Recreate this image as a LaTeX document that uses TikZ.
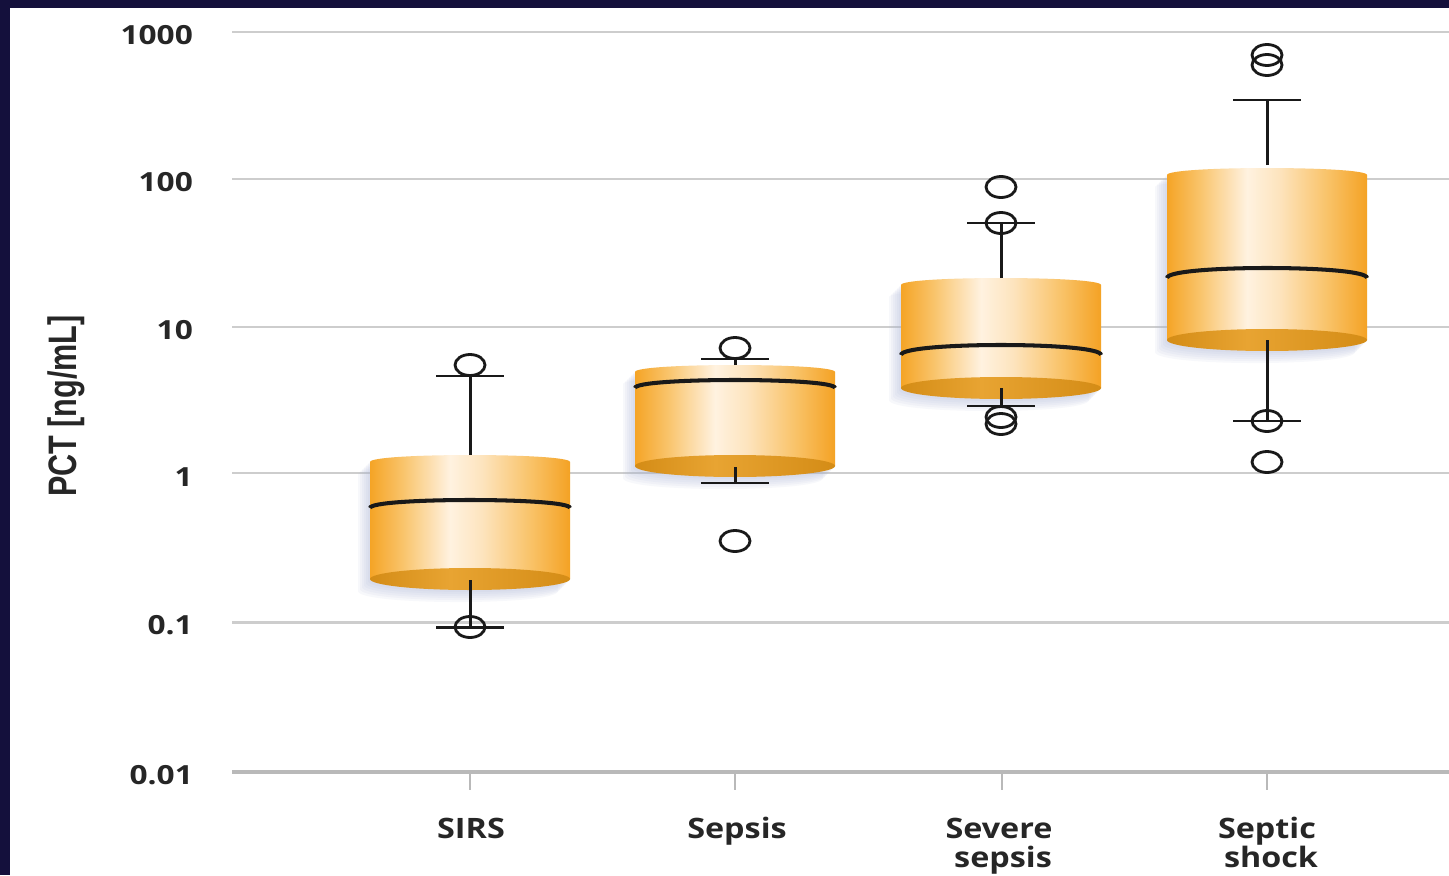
\documentclass[tikz,border=0pt]{standalone}
\usepackage{fontspec}
\setmainfont{Open Sans}
\newfontfamily\tickfont[FakeStretch=1.2]{Open Sans}
\newfontfamily\catfont[FakeStretch=1.15]{Open Sans}
\newfontfamily\ylabfont{Liberation Sans}
\definecolor{navy}{RGB}{20,16,60}
\definecolor{navylight}{RGB}{42,40,95}
\definecolor{gridc}{RGB}{205,205,205}
\definecolor{basec}{RGB}{185,185,185}
\definecolor{txt}{RGB}{38,38,38}
\definecolor{oa}{RGB}{245,164,38}
\definecolor{ob}{RGB}{249,195,105}
\definecolor{oc}{RGB}{255,242,224}
\definecolor{od}{RGB}{253,228,190}
\definecolor{oe}{RGB}{244,162,36}
\definecolor{ba}{RGB}{212,140,22}
\definecolor{bb}{RGB}{232,164,50}
\definecolor{shadowc}{RGB}{170,180,215}
\pgfdeclarehorizontalshading{cylside}{100bp}{color(0bp)=(oa); color(25bp)=(oa); color(33bp)=(ob); color(45bp)=(oc); color(53bp)=(od); color(65bp)=(ob); color(75bp)=(oe); color(100bp)=(oe)}
\pgfdeclarehorizontalshading{cylbot}{100bp}{color(0bp)=(ba); color(25bp)=(ba); color(45bp)=(bb); color(75bp)=(ba); color(100bp)=(ba)}
\tikzset{
  gridline/.style={draw=gridc, line width=1.7pt},
  baseline/.style={draw=basec, line width=2.2pt},
  tickmark/.style={draw=basec, line width=1.5pt},
  wline/.style={draw=black!90, line width=1.7pt},
  mline/.style={draw=black!90, line width=2.3pt},
  oline/.style={draw=black!90, line width=1.6pt},
  ticklab/.style={anchor=east, text=txt, font=\tickfont\bfseries\fontsize{15}{18}\selectfont},
  catlab/.style={anchor=base, text=txt, font=\catfont\bfseries\fontsize{16}{19}\selectfont},
  shadlayer/.style={fill=shadowc, fill opacity=0.09}
}
% #1 cx, #2 top side y, #3 bottom ellipse centre y, #4 median side y, #5 median bulge
\newcommand\cylbox[5]{%
  \foreach \s in {2,4,6,8,10,12} {
    \fill[shadlayer] ({#1-100-\s},{#2+\s}) .. controls ({#1-100-\s},{#2+\s-9.3}) and ({#1+100-\s},{#2+\s-9.3}) .. ({#1+100-\s},{#2+\s}) -- ({#1+100-\s},{#3+\s}) .. controls ({#1+100-\s},{#3+\s+14.7}) and ({#1-100-\s},{#3+\s+14.7}) .. ({#1-100-\s},{#3+\s}) -- cycle;
  }
  \shade[shading=cylside] ({#1-100},#2) .. controls ({#1-100},{#2-9.3}) and ({#1+100},{#2-9.3}) .. ({#1+100},#2) -- ({#1+100},#3) -- ({#1-100},#3) -- cycle;
  \shade[shading=cylbot] (#1,#3) ellipse [x radius=100, y radius=11];
  \draw[mline] ({#1-100},#4) .. controls ({#1-100},{#4-#5*1.333}) and ({#1+100},{#4-#5*1.333}) .. ({#1+100},#4);
}
\newcommand\whisk[3]{%
  \draw[wline] (#1,#2) -- (#1,#3);
  \draw[wline] ({#1-34},#3) -- ({#1+34},#3);
}
\newcommand\outl[2]{\draw[oline] (#1,#2) ellipse [x radius=15, y radius=10.5];}

\begin{document}
\begin{tikzpicture}[x=0.02cm, y=-0.02cm]
\useasboundingbox (0,0) rectangle (1449,875);
% frame
\fill[navy] (0,0) rectangle (1449,875);
\shade[left color=navy, middle color=navylight, right color=navy] (0,0) rectangle (1449,8);
\fill[white] (10,8) rectangle (1449,875);
% grid
\foreach \y in {32,179,327,473,622} { \draw[gridline] (232,\y) -- (1449,\y); }
\draw[baseline] (232,772) -- (1449,772);
\foreach \x in {470,735,1002,1267} { \draw[tickmark] (\x,772) -- (\x,790); }
% tick labels
\node[ticklab] (t1000) at (199,35) {1000};
\node[ticklab] (t100) at (199,182) {100};
\node[ticklab] (t10) at (199,330) {10};
\node[ticklab] (t1) at (199,477) {1};
\node[ticklab] (t01) at (199,625) {0.1};
\node[ticklab] (t001) at (199,775) {0.01};
% y label
\node[rotate=90, text=txt, font=\ylabfont\bfseries\fontsize{17.4}{20}\selectfont] (ylab) at (66,406) {\scalebox{1}[1.3]{PCT [ng/mL]}};
% boxes
\cylbox{470}{462}{579}{508}{8}
\cylbox{735}{372}{466}{388}{8}
\cylbox{1001}{285}{388}{355}{10}
\cylbox{1267}{175}{340}{278}{10}
% whiskers and outliers
\whisk{470}{455}{376} \outl{470}{365}
\whisk{470}{580}{627} \outl{470}{627}
\whisk{735}{365}{359} \outl{735}{348}
\whisk{735}{467}{483} \outl{735}{541}
\whisk{1001}{278}{223} \outl{1001}{223} \outl{1001}{187}
\whisk{1001}{388}{406} \outl{1001}{417} \outl{1001}{424}
\whisk{1267}{165}{100} \outl{1267}{55} \outl{1267}{65}
\whisk{1267}{340}{421} \outl{1267}{421} \outl{1267}{462}
% category labels
\node[catlab] (c1) at (471,838) {SIRS};
\node[catlab] (c2) at (737,838) {Sepsis};
\node[catlab] (c3a) at (999,838) {Severe};
\node[catlab] (c3b) at (1003,867) {sepsis};
\node[catlab] (c4a) at (1267,838) {Septic};
\node[catlab] (c4b) at (1271,867) {shock};
\end{tikzpicture}
\end{document}
